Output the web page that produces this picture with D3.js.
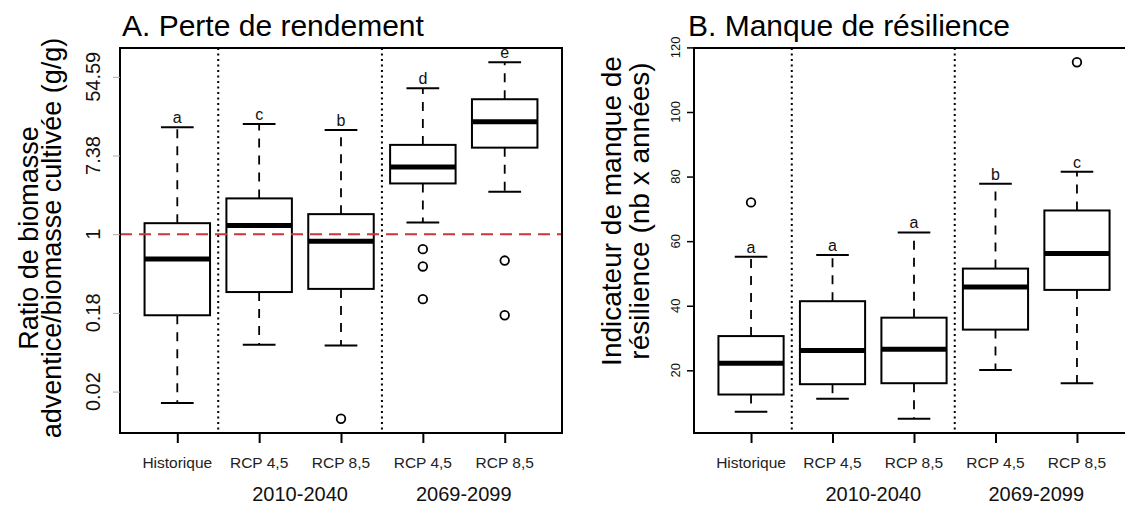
<!DOCTYPE html>
<html>
<head>
<meta charset="utf-8">
<script src="https://cdn.jsdelivr.net/npm/d3@7"></script>
<style>
body { margin: 0; background: #fff; }
svg { font-family: "Liberation Sans", Arial, sans-serif; }
</style>
</head>
<body>
<svg id="chart" width="1125" height="506"></svg>
<script>
var groups = ["Historique", "RCP 4,5", "RCP 8,5", "RCP 4,5", "RCP 8,5"];
var periods = ["2010-2040", "2069-2099"];

// A : ratio in ln units (axis labels are exp values)
var lowA  = [-4.29, -2.81, -2.83, 0.30, 1.08];
var q1A   = [-2.06, -1.47, -1.39, 1.29, 2.20];
var medA  = [-0.63,  0.22, -0.18, 1.71, 2.86];
var q3A   = [ 0.28,  0.91,  0.51, 2.27, 3.43];
var highA = [ 2.72,  2.80,  2.65, 3.71, 4.37];
var outA  = [[], [], [-4.69], [-0.38, -0.82, -1.65], [-0.67, -2.06]];
var lettersA = ["a", "c", "b", "d", "e"];
var ticksA = [-4, -2, 0, 2, 4];
var tickLabelsA = ["0.02", "0.18", "1", "7.38", "54.59"];

// B : indicateur de manque de resilience
var lowB  = [ 7.2, 11.2,  5.0, 20.1, 16.0];
var q1B   = [12.5, 15.7, 16.0, 32.6, 44.9];
var medB  = [22.2, 26.1, 26.5, 45.8, 56.2];
var q3B   = [30.6, 41.4, 36.3, 51.5, 69.5];
var highB = [55.2, 55.7, 62.7, 77.8, 81.5];
var outB  = [[72.0], [], [], [], [115.4]];
var lettersB = ["a", "a", "a", "b", "c"];
var ticksB = [20, 40, 60, 80, 100, 120];

var svg = d3.select("#chart");
var top_ = 48, bottom = 433;

function drawPanel(p) {
    var x = d3.scaleLinear().domain([0.3, 5.7]).range([p.left, p.right]);
    var all = p.low.concat(p.high, d3.merge(p.out));
    var lo = d3.min(all), hi = d3.max(all), pad = (hi - lo) * 0.04;
    var y = d3.scaleLinear().domain([lo - pad, hi + pad]).range([bottom, top_]);

    var g = svg.append("g");
    var bw = x(1.4) - x(0.6), cw = x(1.2) - x(0.8);
    var idx = d3.range(groups.length);

    // whiskers
    g.selectAll(".wu").data(idx).enter().append("line")
        .attr("x1", function (i) { return x(i + 1); })
        .attr("x2", function (i) { return x(i + 1); })
        .attr("y1", function (i) { return y(p.q3[i]); })
        .attr("y2", function (i) { return y(p.high[i]); })
        .attr("stroke", "#000").attr("stroke-width", 1.8).attr("stroke-dasharray", "9,8");
    g.selectAll(".wl").data(idx).enter().append("line")
        .attr("x1", function (i) { return x(i + 1); })
        .attr("x2", function (i) { return x(i + 1); })
        .attr("y1", function (i) { return y(p.q1[i]); })
        .attr("y2", function (i) { return y(p.low[i]); })
        .attr("stroke", "#000").attr("stroke-width", 1.8).attr("stroke-dasharray", "9,8");

    // caps
    [p.high, p.low].forEach(function (arr) {
        g.selectAll(null).data(idx).enter().append("line")
            .attr("x1", function (i) { return x(i + 1) - cw / 2; })
            .attr("x2", function (i) { return x(i + 1) + cw / 2; })
            .attr("y1", function (i) { return y(arr[i]); })
            .attr("y2", function (i) { return y(arr[i]); })
            .attr("stroke", "#000").attr("stroke-width", 2);
    });

    // boxes
    g.selectAll(".box").data(idx).enter().append("rect")
        .attr("x", function (i) { return x(i + 1) - bw / 2; })
        .attr("width", bw)
        .attr("y", function (i) { return y(p.q3[i]); })
        .attr("height", function (i) { return y(p.q1[i]) - y(p.q3[i]); })
        .attr("fill", "#fff").attr("stroke", "#000").attr("stroke-width", 2);

    // medians
    g.selectAll(".med").data(idx).enter().append("line")
        .attr("x1", function (i) { return x(i + 1) - bw / 2; })
        .attr("x2", function (i) { return x(i + 1) + bw / 2; })
        .attr("y1", function (i) { return y(p.med[i]); })
        .attr("y2", function (i) { return y(p.med[i]); })
        .attr("stroke", "#000").attr("stroke-width", 5);

    // outliers
    var pts = [];
    p.out.forEach(function (arr, i) { arr.forEach(function (v) { pts.push([i, v]); }); });
    g.selectAll(".out").data(pts).enter().append("circle")
        .attr("cx", function (d) { return x(d[0] + 1); })
        .attr("cy", function (d) { return y(d[1]); })
        .attr("r", 4.3)
        .attr("fill", "none").attr("stroke", "#000").attr("stroke-width", 1.8);

    // letters
    g.selectAll(".let").data(idx).enter().append("text")
        .attr("x", function (i) { return x(i + 1); })
        .attr("y", function (i) { return y(p.high[i]) - 4; })
        .attr("text-anchor", "middle")
        .attr("font-size", 16)
        .attr("fill", "#111")
        .text(function (i) { return p.letters[i]; });

    // separators
    g.selectAll(".sep").data([1.5, 3.5]).enter().append("line")
        .attr("x1", function (d) { return x(d); })
        .attr("x2", function (d) { return x(d); })
        .attr("y1", top_).attr("y2", bottom)
        .attr("stroke", "#000").attr("stroke-width", 2).attr("stroke-dasharray", "2,3.5");

    if (p.refLine !== undefined) {
        g.append("line")
            .attr("x1", p.left).attr("x2", p.right)
            .attr("y1", y(p.refLine)).attr("y2", y(p.refLine))
            .attr("stroke", "#c8373a").attr("stroke-width", 2).attr("stroke-dasharray", "12,7");
    }

    // frame
    g.append("rect")
        .attr("x", p.left).attr("y", top_)
        .attr("width", p.right - p.left).attr("height", bottom - top_)
        .attr("fill", "none").attr("stroke", "#000").attr("stroke-width", 2);

    // x axis
    var xa = g.append("g").attr("transform", "translate(0," + bottom + ")")
        .call(d3.axisBottom(x).tickValues([1, 2, 3, 4, 5]).tickSize(10).tickFormat(""));
    xa.select(".domain").remove();
    xa.selectAll(".tick line").attr("stroke", "#000").attr("stroke-width", 2);

    g.selectAll(".cat").data(idx).enter().append("text")
        .attr("x", function (i) { return x(i + 1); })
        .attr("y", 468)
        .attr("text-anchor", "middle")
        .attr("font-size", 15.5)
        .attr("fill", "#222")
        .text(function (i) { return groups[i]; });

    g.selectAll(".per").data(periods).enter().append("text")
        .attr("x", function (d, i) { return x(2.5 + 2 * i); })
        .attr("y", 501)
        .attr("text-anchor", "middle")
        .attr("font-size", 20)
        .attr("fill", "#111")
        .text(function (d) { return d; });

    // y axis
    var ya = g.append("g").attr("transform", "translate(" + p.left + ",0)")
        .call(d3.axisLeft(y).tickValues(p.ticks).tickSize(p.tickLen).tickFormat(""));
    ya.select(".domain").remove();
    ya.selectAll(".tick line").attr("stroke", p.tickColor).attr("stroke-width", p.tickWidth);

    g.selectAll(".yl").data(p.ticks).enter().append("text")
        .attr("transform", function (d) { return "translate(" + p.tickLabelX + "," + y(d) + ") rotate(-90)"; })
        .attr("text-anchor", "middle")
        .attr("font-size", p.tickFont)
        .attr("fill", "#111")
        .text(function (d, i) { return p.tickLabels[i]; });

    // y title (two lines)
    p.ylab.forEach(function (t, i) {
        g.append("text")
            .attr("transform", "translate(" + p.ylabX[i] + "," + p.ylabY + ") rotate(-90)")
            .attr("text-anchor", "middle")
            .attr("font-size", p.ylabFont)
            .attr("fill", "#000")
            .text(t);
    });

    // title
    g.append("text")
        .attr("x", p.titleX).attr("y", 36)
        .attr("font-size", 30)
        .attr("fill", "#000")
        .text(p.title);
}

drawPanel({
    left: 120, right: 562,
    low: lowA, q1: q1A, med: medA, q3: q3A, high: highA, out: outA, letters: lettersA,
    ticks: ticksA, tickLabels: tickLabelsA,
    tickLen: 7, tickColor: "#aaa", tickWidth: 1, tickLabelX: 100, tickFont: 20,
    refLine: 0,
    ylab: ["Ratio de biomasse", "adventice/biomasse cultivée (g/g)"],
    ylabX: [38, 61], ylabY: 238, ylabFont: 27,
    title: "A. Perte de rendement", titleX: 122
});

drawPanel({
    left: 694, right: 1134,
    low: lowB, q1: q1B, med: medB, q3: q3B, high: highB, out: outB, letters: lettersB,
    ticks: ticksB, tickLabels: ticksB.map(String),
    tickLen: 7, tickColor: "#000", tickWidth: 1.5, tickLabelX: 680, tickFont: 13,
    ylab: ["Indicateur de manque de", "résilience (nb x années)"],
    ylabX: [621, 649], ylabY: 211, ylabFont: 28,
    title: "B. Manque de résilience", titleX: 688
});
</script>
</body>
</html>
